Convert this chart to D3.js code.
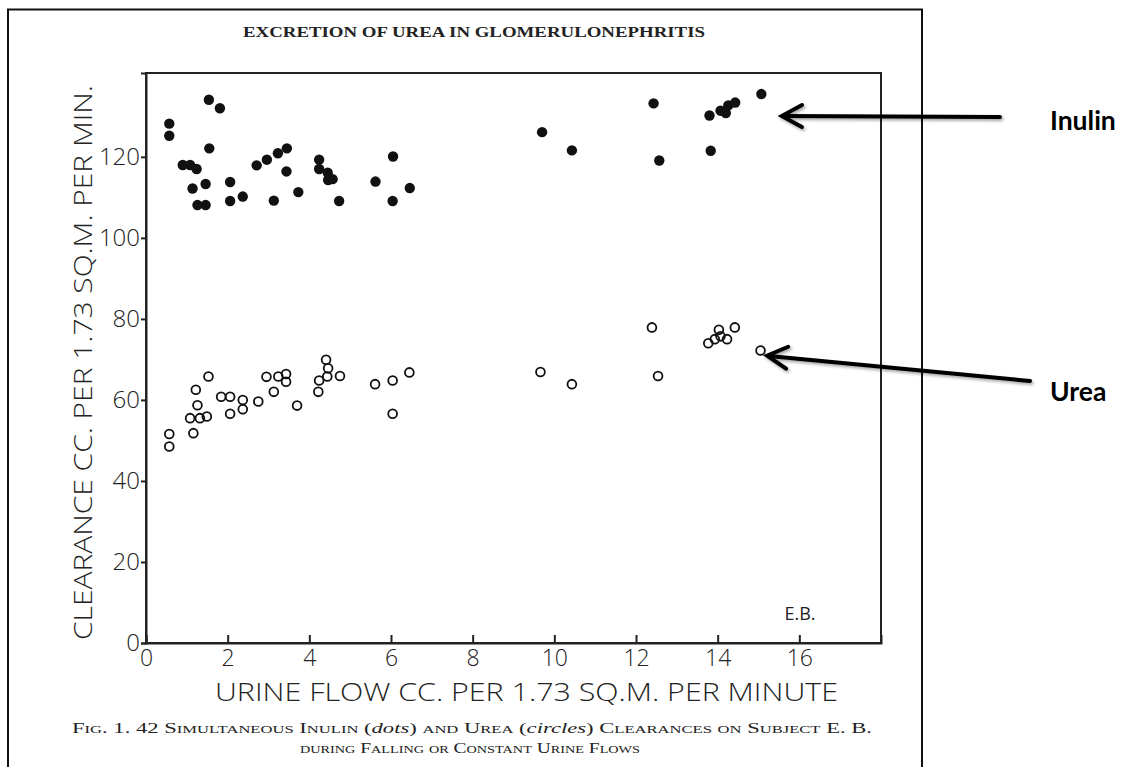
<!DOCTYPE html>
<html>
<head>
<meta charset="utf-8">
<script src="https://cdn.jsdelivr.net/npm/d3@7"></script>
<style>
  html, body { margin: 0; padding: 0; background: #fff; }
  svg { display: block; }
</style>
</head>
<body>
<svg id="chart" width="1122" height="767"></svg>
<script>
// ---- data ----
const inulinFlow = [0.57, 0.57, 1.54, 1.81, 1.55, 0.90, 1.08, 1.24, 1.14, 1.46, 1.26, 1.46,
  2.06, 2.06, 2.37, 2.71, 2.96, 3.23, 3.45, 3.44, 3.13, 3.73, 4.24, 4.24, 4.45, 4.46, 4.57,
  4.73, 5.62, 6.05, 6.04, 6.46, 9.70, 10.43, 12.43, 12.57, 13.80, 13.83, 14.07, 14.20, 14.26,
  14.43, 15.07];
const inulinClearance = [128.2, 125.2, 134.1, 132.0, 122.1, 118.0, 118.0, 117.0, 112.2, 113.3,
  108.1, 108.1, 113.8, 109.1, 110.2, 117.9, 119.3, 120.9, 122.1, 116.4, 109.2, 111.3, 119.3,
  117.0, 116.1, 114.3, 114.5, 109.1, 113.9, 120.1, 109.1, 112.3, 126.1, 121.6, 133.2, 119.1,
  130.2, 121.5, 131.4, 130.8, 132.7, 133.4, 135.5];

const ureaFlow = [0.57, 0.57, 1.16, 1.08, 1.32, 1.49, 1.26, 1.22, 1.53, 1.84, 2.06, 2.06, 2.37,
  2.37, 2.75, 2.95, 3.13, 3.24, 3.43, 3.43, 3.70, 4.22, 4.24, 4.41, 4.46, 4.44, 4.75, 5.61,
  6.04, 6.04, 6.45, 9.66, 10.43, 12.39, 12.54, 13.77, 13.93, 14.03, 14.07, 14.23, 14.42, 15.05];
const ureaClearance = [51.6, 48.5, 51.8, 55.5, 55.5, 55.9, 58.7, 62.5, 65.8, 60.8, 60.8, 56.6,
  60.0, 57.7, 59.6, 65.7, 62.0, 65.8, 66.4, 64.5, 58.6, 62.0, 64.8, 69.9, 67.8, 65.8, 65.9,
  63.9, 64.8, 56.6, 66.8, 66.9, 63.9, 77.9, 65.9, 74.0, 75.0, 77.3, 75.7, 75.0, 77.9, 72.2];

const xTicks = [0, 2, 4, 6, 8, 10, 12, 14, 16];
const yTicks = [0, 20, 40, 60, 80, 100, 120];

const titleText = "EXCRETION OF UREA IN GLOMERULONEPHRITIS";
const xTitle = "URINE FLOW CC. PER 1.73 SQ.M. PER MINUTE";
const yTitle = "CLEARANCE CC. PER 1.73 SQ.M. PER MIN.";
const subjectLabel = "E.B.";
// annotation arrows: tip given in data units (flow, clearance)
const annotationLabels = ["Inulin", "Urea"];
const annotationTipFlow = [15.57, 15.21];
const annotationTipClearance = [130.1, 70.9];

// ---- layout ----
const svg = d3.select("#chart");
const plot = { left: 146, right: 881, top: 73, bottom: 643 };
const x = d3.scaleLinear().domain([0, 18]).range([plot.left, plot.right]);
const y = d3.scaleLinear().domain([0, 140.7]).range([plot.bottom, plot.top]);

const defs = svg.append("defs");
const f = defs.append("filter").attr("id", "shadow").attr("x", "-20%").attr("y", "-50%")
  .attr("width", "140%").attr("height", "200%");
f.append("feDropShadow").attr("dx", 1.5).attr("dy", 2).attr("stdDeviation", 1.5)
  .attr("flood-color", "#000").attr("flood-opacity", 0.35);

// outer page frame
svg.append("path")
  .attr("d", "M8,780 L8,9.5 L922,9.5 L922,780")
  .attr("fill", "none").attr("stroke", "#111").attr("stroke-width", 2);

// title
svg.append("text")
  .attr("x", 474).attr("y", 37)
  .attr("text-anchor", "middle")
  .attr("font-family", "'Liberation Serif', 'DejaVu Serif', serif")
  .attr("font-weight", "bold")
  .attr("font-size", 14)
  .attr("fill", "#222")
  .attr("textLength", 462).attr("lengthAdjust", "spacingAndGlyphs")
  .text(titleText);

// plot frame
svg.append("rect")
  .attr("x", plot.left).attr("y", plot.top)
  .attr("width", plot.right - plot.left).attr("height", plot.bottom - plot.top)
  .attr("fill", "none").attr("stroke", "#222").attr("stroke-width", 2);

const axisFont = "'Open Sans', 'Liberation Sans', 'DejaVu Sans', sans-serif";

// y axis
const yAxis = svg.append("g")
  .attr("transform", `translate(${plot.left},0)`)
  .call(d3.axisLeft(y).tickValues(yTicks).tickSize(5).tickPadding(1).tickFormat(d3.format("d")));
yAxis.select(".domain").attr("stroke", "#222").attr("stroke-width", 2);
yAxis.selectAll(".tick line").attr("stroke", "#222").attr("stroke-width", 2);
yAxis.selectAll(".tick text")
  .attr("font-family", axisFont).attr("font-weight", 300)
  .attr("font-size", 24).attr("fill", "#222");

// x axis
const xAxis = svg.append("g")
  .attr("transform", `translate(0,${plot.bottom})`)
  .call(d3.axisBottom(x).tickValues(xTicks).tickSize(-8).tickPadding(5).tickFormat(d3.format("d")));
xAxis.select(".domain").attr("stroke", "#222").attr("stroke-width", 2);
xAxis.selectAll(".tick line").attr("stroke", "#222").attr("stroke-width", 2);
xAxis.selectAll(".tick text")
  .attr("font-family", axisFont).attr("font-weight", 300)
  .attr("font-size", 23).attr("fill", "#222")
  .attr("y", 15).attr("dy", "0.36em");

// axis titles
svg.append("text")
  .attr("x", (215 + 838) / 2).attr("y", 701)
  .attr("text-anchor", "middle")
  .attr("font-family", axisFont).attr("font-weight", 300)
  .attr("font-size", 25).attr("fill", "#222")
  .attr("textLength", 623).attr("lengthAdjust", "spacingAndGlyphs")
  .text(xTitle);

svg.append("text")
  .attr("transform", "translate(92,362.5) rotate(-90)")
  .attr("text-anchor", "middle")
  .attr("font-family", axisFont).attr("font-weight", 300)
  .attr("font-size", 26).attr("fill", "#222")
  .attr("textLength", 555).attr("lengthAdjust", "spacingAndGlyphs")
  .text(yTitle);

// subject label
svg.append("text")
  .attr("x", 800).attr("y", 620)
  .attr("text-anchor", "middle")
  .attr("font-family", axisFont).attr("font-weight", 400)
  .attr("font-size", 18).attr("fill", "#222")
  .text(subjectLabel);

// data points
const inulin = inulinFlow.map((v, i) => ({ x: v, y: inulinClearance[i] }));
const urea = ureaFlow.map((v, i) => ({ x: v, y: ureaClearance[i] }));

svg.append("g").selectAll("circle").data(inulin).join("circle")
  .attr("cx", d => x(d.x)).attr("cy", d => y(d.y)).attr("r", 5.2)
  .attr("fill", "#111");

svg.append("g").selectAll("circle").data(urea).join("circle")
  .attr("cx", d => x(d.x)).attr("cy", d => y(d.y)).attr("r", 4.4)
  .attr("fill", "none").attr("stroke", "#111").attr("stroke-width", 1.8);

// annotation arrows
const arrowEnds = [[1000, 117], [1030, 381]];
const labelPos = [[1050, 130], [1050, 401]];
annotationLabels.forEach((label, i) => {
  const tipX = x(annotationTipFlow[i]);
  const tipY = y(annotationTipClearance[i]);
  const [ex, ey] = arrowEnds[i];
  const ang = Math.atan2(ey - tipY, ex - tipX);
  const L = 23, spread = 0.5;
  const p1 = [tipX + L * Math.cos(ang - spread), tipY + L * Math.sin(ang - spread)];
  const p2 = [tipX + L * Math.cos(ang + spread), tipY + L * Math.sin(ang + spread)];
  const g = svg.append("g").attr("filter", "url(#shadow)");
  g.append("line")
    .attr("x1", ex).attr("y1", ey).attr("x2", tipX + 2 * Math.cos(ang)).attr("y2", tipY + 2 * Math.sin(ang))
    .attr("stroke", "#000").attr("stroke-width", 4).attr("stroke-linecap", "round");
  g.append("path")
    .attr("d", `M${p1[0]},${p1[1]} L${tipX},${tipY} L${p2[0]},${p2[1]}`)
    .attr("fill", "none").attr("stroke", "#000").attr("stroke-width", 4)
    .attr("stroke-linecap", "round").attr("stroke-linejoin", "miter");
  const [lx, ly] = labelPos[i];
  svg.append("text")
    .attr("x", lx).attr("y", ly)
    .attr("font-family", "Lato, 'Open Sans', 'Liberation Sans', sans-serif")
    .attr("font-weight", "bold").attr("font-size", 26.5).attr("fill", "#000")
    .text(label);
});

// caption
const cap = svg.append("g")
  .attr("font-family", "'Liberation Serif', 'DejaVu Serif', serif")
  .attr("font-size", 15).attr("fill", "#222");
const line1 = cap.append("text")
  .attr("x", 472).attr("y", 733).attr("text-anchor", "middle")
  .attr("textLength", 800).attr("lengthAdjust", "spacingAndGlyphs")
  .style("font-variant", "small-caps");
line1.append("tspan").text("Fig. 1.  42 Simultaneous Inulin (");
line1.append("tspan").attr("font-style", "italic").style("font-variant", "normal").text("dots");
line1.append("tspan").text(") and Urea (");
line1.append("tspan").attr("font-style", "italic").style("font-variant", "normal").text("circles");
line1.append("tspan").text(") Clearances on Subject E. B.");
cap.append("text")
  .attr("x", 470).attr("y", 753).attr("text-anchor", "middle")
  .attr("textLength", 340).attr("lengthAdjust", "spacingAndGlyphs")
  .style("font-variant", "small-caps")
  .text("during Falling or Constant Urine Flows");
</script>
</body>
</html>
